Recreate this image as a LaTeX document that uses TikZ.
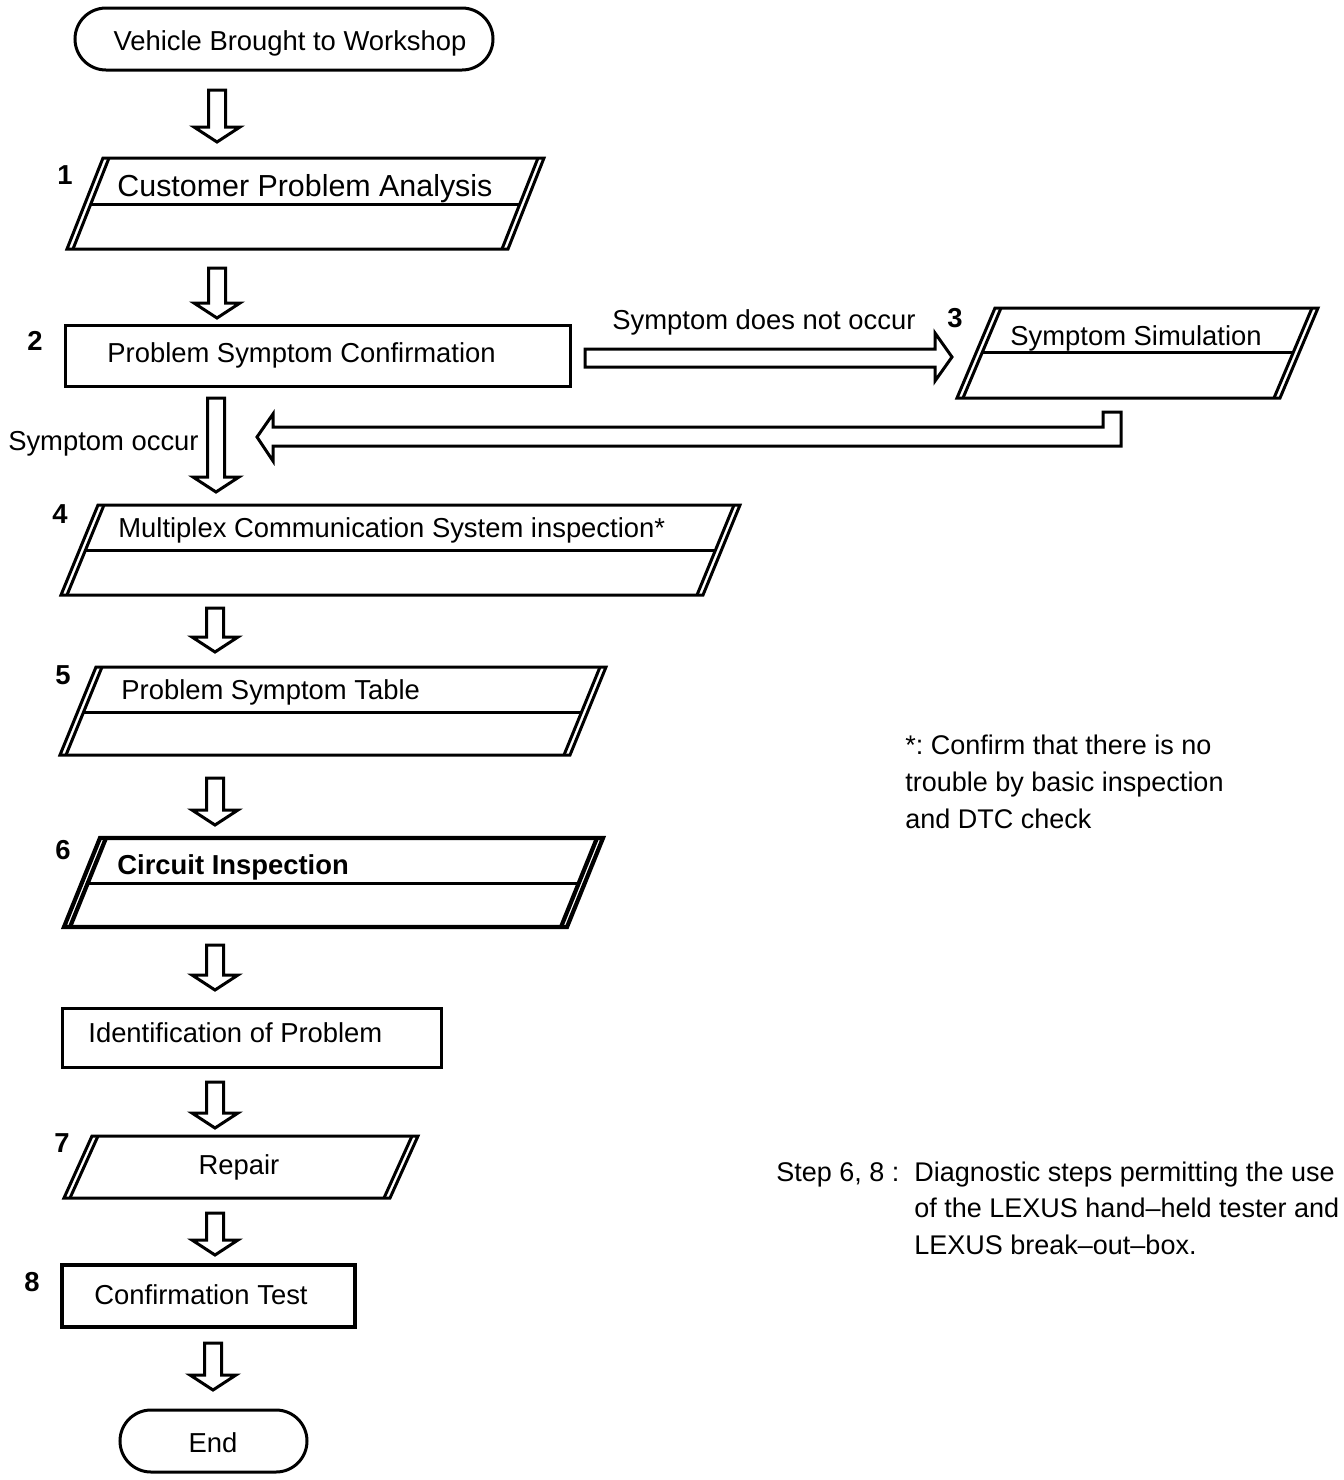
\documentclass[tikz,border=0pt]{standalone}
\usepackage{fontspec}
\setmainfont{Liberation Sans}
\frenchspacing
\tikzset{
  ln/.style={draw, line width=1.5pt, line join=miter},
  thk/.style={draw, line width=2.1pt, line join=miter},
  txt/.style={inner sep=0pt, font=\fontsize{13.7}{16}\selectfont},
  notetxt/.style={inner sep=0pt, font=\fontsize{13.5}{16}\selectfont},
  bigtxt/.style={inner sep=0pt, font=\fontsize{15.2}{18}\selectfont},
  num/.style={inner sep=0pt, font=\fontsize{13.7}{16}\selectfont\bfseries},
  blk/.style={draw, line width=1.5pt, fill=white, line join=miter},
}
% hollow down arrow: name, x, ytop, ytip
\newcommand\dnarrow[4]{%
  \draw[blk] (#2-8.5,#3) -- (#2+8.5,#3) -- (#2+8.5,#4-15) -- (#2+23,#4-15)
    -- (#2,#4) -- (#2-23,#4-15) -- (#2-8.5,#4-15) -- cycle;
  \coordinate (#1) at (#2,#4);}
% parallelogram with doubled slanted sides: name, xTL, xTR, yT, yB, slant, style
\newcommand\pgbox[7]{%
  \draw[#7] (#2,#4) -- (#3,#4) -- ({#3-#6},#5) -- ({#2-#6},#5) -- cycle;
  \draw[#7] ({#2+6},#4) -- ({#2-#6+6},#5);
  \draw[#7] ({#3-6},#4) -- ({#3-#6-6},#5);
  \coordinate (#1) at ({(#2+#3-#6)/2},{(#4+#5)/2});}
% middle rule of a parallelogram: xTL, xTR, yT, yB, slant, ymid, style
\newcommand\pgmid[7]{%
  \draw[#7] ({#1+6-#5*(#6-#3)/(#4-#3)},#6) -- ({#2-6-#5*(#6-#3)/(#4-#3)},#6);}
\begin{document}
\begin{tikzpicture}[x=0.5pt,y=-0.5pt]
\useasboundingbox (0,0) rectangle (1344,1480);

% start terminal
\draw[ln, rounded corners=15.5pt] (75,8) rectangle (493,70);
\coordinate (start) at (284,39);
\node[txt, anchor=base] (tstart) at (290,50) {Vehicle Brought to Workshop};

\dnarrow{a1}{217}{90}{142}

% 1
\pgbox{b1}{103}{544}{158}{249}{36}{ln}
\pgmid{103}{544}{158}{249}{36}{204}{ln}
\node[num, anchor=base] (n1) at (65,184) {1};
\node[bigtxt, anchor=base west] (t1) at (117,196) {Customer Problem Analysis};

\dnarrow{a2}{217}{268}{318}

% 2
\draw[ln] (65,325) rectangle (570,386);
\coordinate (b2) at (317,355);
\node[num, anchor=base] (n2) at (35,350) {2};
\node[txt, anchor=base west] (t2) at (107,362) {Problem Symptom Confirmation};

% to 3
\draw[blk] (585,349) -- (935,349) -- (935,333) -- (952,357) -- (935,381) -- (935,367) -- (585,367) -- cycle;
\node[txt, anchor=base west] (tno) at (612,329) {Symptom does not occur};

% 3
\pgbox{b3}{995}{1318}{308}{398}{38}{ln}
\pgmid{995}{1318}{308}{398}{38}{352}{ln}
\node[num, anchor=base] (n3) at (955,327) {3};
\node[txt, anchor=base west] (t3) at (1010,345) {Symptom Simulation};

% return arrow
\draw[blk] (257,437) -- (273,414) -- (273,427) -- (1103,427) -- (1103,412) -- (1121,412)
  -- (1121,446) -- (273,446) -- (273,461) -- cycle;

% big down arrow
\dnarrow{a3}{216}{398}{492}
\node[txt, anchor=base east] (tocc) at (199,450) {Symptom occur};

% 4
\pgbox{b4}{98}{740}{505}{595}{37}{ln}
\pgmid{98}{740}{505}{595}{37}{550}{ln}
\node[num, anchor=base] (n4) at (60,523) {4};
\node[txt, anchor=base west] (t4) at (118,537) {Multiplex Communication System inspection*};

\dnarrow{a4}{215}{608}{652}

% 5
\pgbox{b5}{96}{606}{667}{755}{36}{ln}
\pgmid{96}{606}{667}{755}{36}{712}{ln}
\node[num, anchor=base] (n5) at (63,684) {5};
\node[txt, anchor=base west] (t5) at (121,699) {Problem Symptom Table};

\dnarrow{a5}{215}{778}{825}

% 6
\pgbox{b6}{100}{603}{838}{927}{36}{thk}
\pgmid{100}{603}{838}{927}{36}{883}{ln}
\node[num, anchor=base] (n6) at (63,859) {6};
\node[txt, font=\fontsize{13.7}{16}\selectfont\bfseries, anchor=base west] (t6) at (117,874) {Circuit Inspection};

\dnarrow{a6}{215}{945}{990}

% identification
\draw[ln] (62,1008) rectangle (441,1067);
\coordinate (bid) at (251,1037);
\node[txt, anchor=base west] (tid) at (88,1042) {Identification of Problem};

\dnarrow{a7}{215}{1082}{1128}

% 7
\pgbox{b7}{92}{418}{1136}{1198}{28}{ln}
\node[num, anchor=base] (n7) at (62,1152) {7};
\node[txt, anchor=base] (t7) at (239,1174) {Repair};

\dnarrow{a8}{215}{1213}{1255}

% 8
\draw[thk] (62,1265) rectangle (355,1327);
\coordinate (b8) at (208,1296);
\node[num, anchor=base] (n8) at (32,1291) {8};
\node[txt, anchor=base west] (t8) at (94,1304) {Confirmation Test};

\dnarrow{a9}{213}{1343}{1390}

% end
\draw[ln, rounded corners=15.5pt] (120,1410) rectangle (307,1472);
\coordinate (end) at (213,1441);
\node[txt, anchor=base] (tend) at (213,1452) {End};

% notes
\node[notetxt, anchor=base west] (na) at (905,754) {*: Confirm that there is no};
\node[notetxt, anchor=base west] (nb) at (905,791) {trouble by basic inspection};
\node[notetxt, anchor=base west] (nc) at (905,828) {and DTC check};

\node[notetxt, anchor=base west] (sa) at (776,1181) {Step 6, 8 :};
\node[notetxt, anchor=base west] (sb) at (914,1181) {Diagnostic steps permitting the use};
\node[notetxt, anchor=base west] (sc) at (914,1217) {of the LEXUS hand--held tester and};
\node[notetxt, anchor=base west] (sd) at (914,1254) {LEXUS break--out--box.};
\end{tikzpicture}
\end{document}
